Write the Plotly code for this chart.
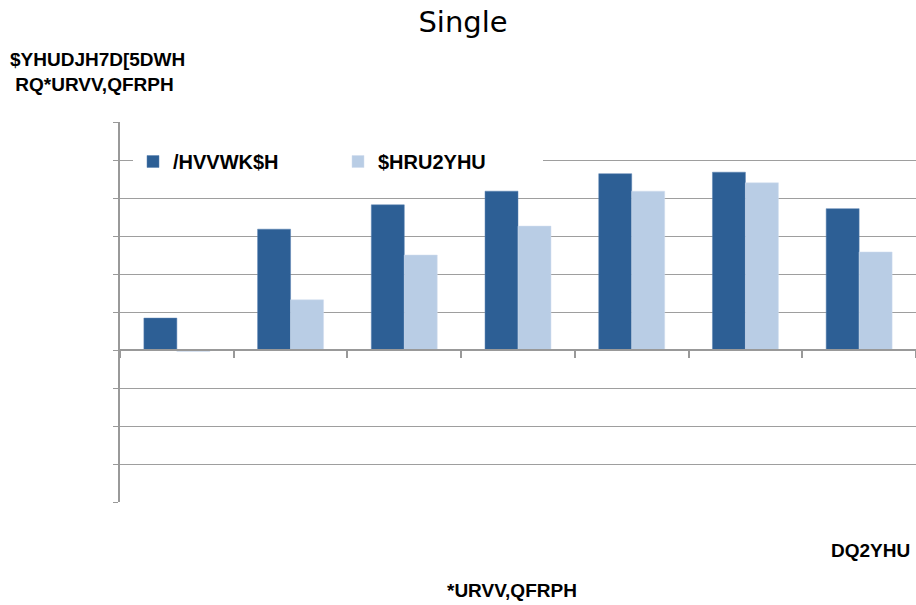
import plotly.graph_objects as go

categories = ["G1", "G2", "G3", "G4", "G5", "G6", "G7"]
less_than = [0.042, 0.159, 0.191, 0.209, 0.232, 0.234, 0.186]
above_over = [-0.002, 0.066, 0.125, 0.163, 0.209, 0.220, 0.129]
series_names = ["/HVVWK$H", "$HRU2YHU"]
title_text = "Single"
ytitle_text = "$YHUDJH7D[5DWH<br>&nbsp;RQ*URVV,QFRPH"
xnote_text = "DQ2YHU"
xtitle_text = "*URVV,QFRPH"

ymin, ymax = -0.20, 0.30
L, R, T, B = 120, 0, 122, 103
W, H = 916, 605
pw, ph = W - L - R, H - T - B

def px_x(x):
    return (x - L) / pw

def px_y(y):
    return (H - B - y) / ph

fig = go.Figure()
fig.add_bar(x=categories, y=less_than, name=series_names[0], marker_color="#2D5F95",
            marker_line=dict(color="#5A83B3", width=0.5))
fig.add_bar(x=categories, y=above_over, name=series_names[1], marker_color="#B9CDE5",
            marker_line=dict(color="#D0DDEE", width=0.5))

fam = "Liberation Sans, Arial, sans-serif"
font_b = dict(family=fam, size=19, color="black", weight="bold")

fig.update_layout(
    width=W, height=H,
    margin=dict(l=L, r=R, t=T, b=B),
    paper_bgcolor="white", plot_bgcolor="white",
    barmode="group", bargap=0.42, bargroupgap=0,
    title=dict(text=title_text, x=463 / W, xref="container", xanchor="center",
               y=1 - 22 / H, yref="container", yanchor="middle",
               font=dict(family="DejaVu Sans, sans-serif", size=29, color="black")),
    showlegend=True,
    legend=dict(orientation="h", x=px_x(133), y=px_y(142), xanchor="left", yanchor="top",
                bgcolor="white", font=dict(family=fam, size=20, color="black", weight="bold"),
                entrywidth=160, entrywidthmode="pixels", traceorder="normal",
                itemwidth=30),
    xaxis=dict(type="category", anchor="free", position=(0 - ymin) / (ymax - ymin),
               showline=True, linecolor="#999999", linewidth=1.5,
               ticks="outside", tickson="boundaries", ticklen=7, tickcolor="#999999",
               tickwidth=1.5, showticklabels=False, showgrid=False),
    yaxis=dict(range=[ymin, ymax], dtick=0.05, showgrid=True, gridcolor="#9E9E9E",
               gridwidth=1.3, zeroline=False, showline=True, linecolor="#999999",
               linewidth=1.5, ticks="outside", ticklen=5, tickcolor="#999999",
               showticklabels=False),
)

fig.add_annotation(text=ytitle_text, xref="paper", yref="paper", x=px_x(8), y=px_y(47),
                   xanchor="left", yanchor="top", align="left", showarrow=False,
                   font=font_b)
fig.add_annotation(text=xnote_text, xref="paper", yref="paper", x=px_x(912), y=px_y(550),
                   xanchor="right", yanchor="middle", showarrow=False,
                   font=font_b)
fig.add_annotation(text=xtitle_text, xref="paper", yref="paper", x=px_x(512), y=px_y(590),
                   xanchor="center", yanchor="middle", showarrow=False,
                   font=font_b)

fig.write_html("out.html", config={"displayModeBar": False},
               post_script="document.body.style.margin='0';document.body.style.overflow='hidden';")
